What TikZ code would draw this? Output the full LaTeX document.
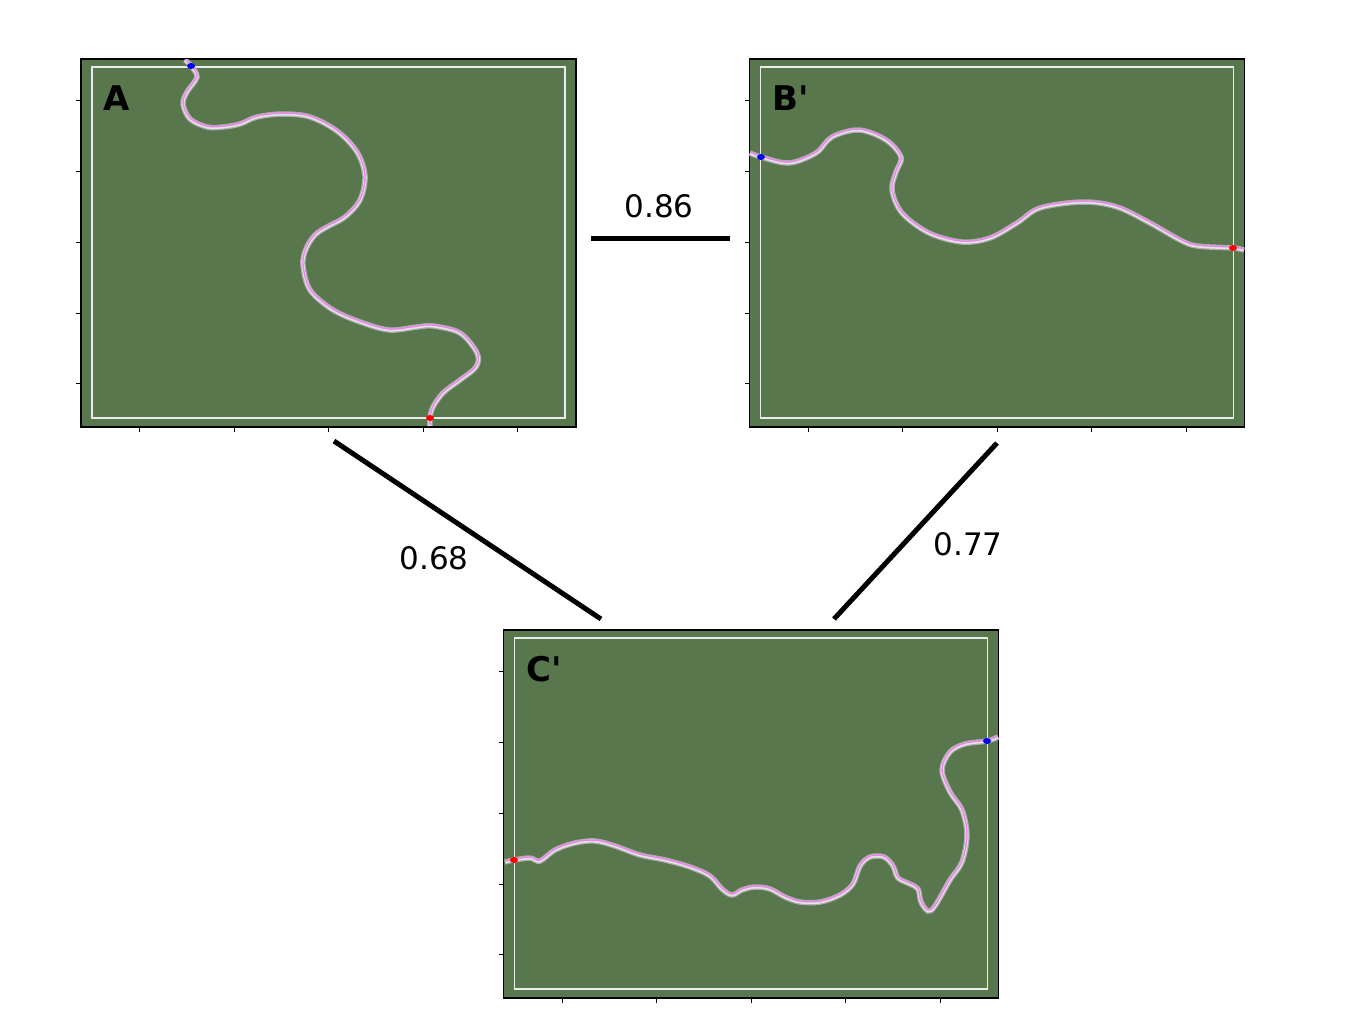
\documentclass[tikz,border=0pt]{standalone}
\usepackage{fontspec}
\setmainfont{DejaVu Sans}
\definecolor{panelgreen}{RGB}{89,119,76}
\definecolor{trackpink}{RGB}{238,130,238}
\newcommand{\drawtrack}[1]{%
  \draw[line width=5.5pt, gray!65] plot[smooth, tension=0.55] coordinates {#1};
  \draw[line width=3pt, white!80!gray] plot[smooth, tension=0.55] coordinates {#1};
  \draw[line width=1.4pt, trackpink, yshift=0.9pt] plot[smooth, tension=0.55] coordinates {#1};
}
\tikzset{
  panel/.style={draw=black, line width=1.5pt, fill=panelgreen, minimum width=495pt, minimum height=368pt, inner sep=0pt},
  innerbox/.style={draw=white!85!gray, line width=1.5pt},
  tickmark/.style={draw=black, line width=1pt},
  panellabel/.style={font=\fontsize{34}{36}\selectfont\bfseries, inner sep=0pt},
  weight/.style={font=\fontsize{31}{34}\selectfont, inner sep=0pt},
  edge/.style={line width=5pt, black},
}
\begin{document}
\begin{tikzpicture}[x=1pt, y=-1pt]
  \useasboundingbox[fill=white] (0,0) rectangle (1350,1013);

  % panels with ticks and labels
  \foreach \cx/\cy/\nm/\lbl in {328.5/243/A/A, 997/243/B/B\textquotesingle, 751/814/C/C\textquotesingle} {
    \node[panel] (panel\nm) at (\cx,\cy) {};
    \draw[innerbox] (\cx-236.5,\cy-176) rectangle (\cx+236.5,\cy+175);
    \foreach \d in {-189,-94.5,0,94.5,189}
      \draw[tickmark] (\cx+\d,\cy+184) -- ++(0,5);
    \foreach \d in {-143,-72,-1,70,140}
      \draw[tickmark] (\cx-247.5,\cy+\d) -- ++(-5,0);
    \node[panellabel, anchor=base west] (lbl\nm) at (\cx-225,\cy-133) {\lbl};
  }

  % tracks
  \begin{scope}
    \clip (81,59) rectangle (576,427);
    \drawtrack{(185,60) (191,66) (197,77) (187,92) (183,104) (190,119) (207,127) (223,127) (240,124) (257,117) (283,114) (310,117) (337,131) (357,152) (365,176) (360,200) (345,217) (327,227) (315,235) (306,249) (303,265) (310,290) (333,310) (363,323) (390,330) (417,327) (433,326) (460,333) (477,353) (476,367) (460,380) (443,393) (433,407) (430,418) (430,426)}
    \fill[blue] (191,66) ellipse (4 and 3);
    \fill[red] (430,418) ellipse (4 and 3);
  \end{scope}
  \begin{scope}
    \clip (749,59) rectangle (1245,427);
    \drawtrack{(750,153) (761,157) (789,163) (816,153) (832,137) (859,130) (886,140) (901,157) (896,172) (892,190) (902,213) (929,233) (962,242) (990,238) (1017,223) (1040,208) (1083,202) (1117,207) (1150,223) (1180,240) (1197,246) (1233,248) (1244,250)}
    \fill[blue] (761,157) ellipse (4 and 3);
    \fill[red] (1233,248) ellipse (4 and 3);
  \end{scope}
  \begin{scope}
    \clip (503,630) rectangle (999,998);
    \drawtrack{(505,862) (514,860) (530,858) (540,861) (555,850) (575,843) (595,841) (615,846) (640,855) (665,860) (690,867) (710,876) (722,889) (732,895) (742,890) (755,887) (770,889) (785,897) (800,902) (820,902) (840,895) (853,884) (860,866) (870,857) (884,857) (893,866) (898,878) (910,884) (918,889) (921,902) (928,911) (935,906) (950,880) (962,862) (967,835) (962,810) (950,792) (942,770) (950,752) (965,744) (987,741) (998,737)}
    \fill[blue] (987,741) ellipse (4 and 3);
    \fill[red] (514,860) ellipse (4 and 3);
  \end{scope}

  % similarity edges
  \coordinate (ab1) at (591,238);
  \coordinate (ab2) at (730,238);
  \coordinate (ac1) at (334,441);
  \coordinate (ac2) at (601,619);
  \coordinate (bc1) at (997,443);
  \coordinate (bc2) at (834,619);
  \draw[edge] (ab1) -- (ab2);
  \draw[edge] (ac1) -- (ac2);
  \draw[edge] (bc1) -- (bc2);
  \node[weight] (wAB) at (659,206) {0.86};
  \node[weight] (wAC) at (434,558) {0.68};
  \node[weight] (wBC) at (968,544) {0.77};
\end{tikzpicture}
\end{document}
